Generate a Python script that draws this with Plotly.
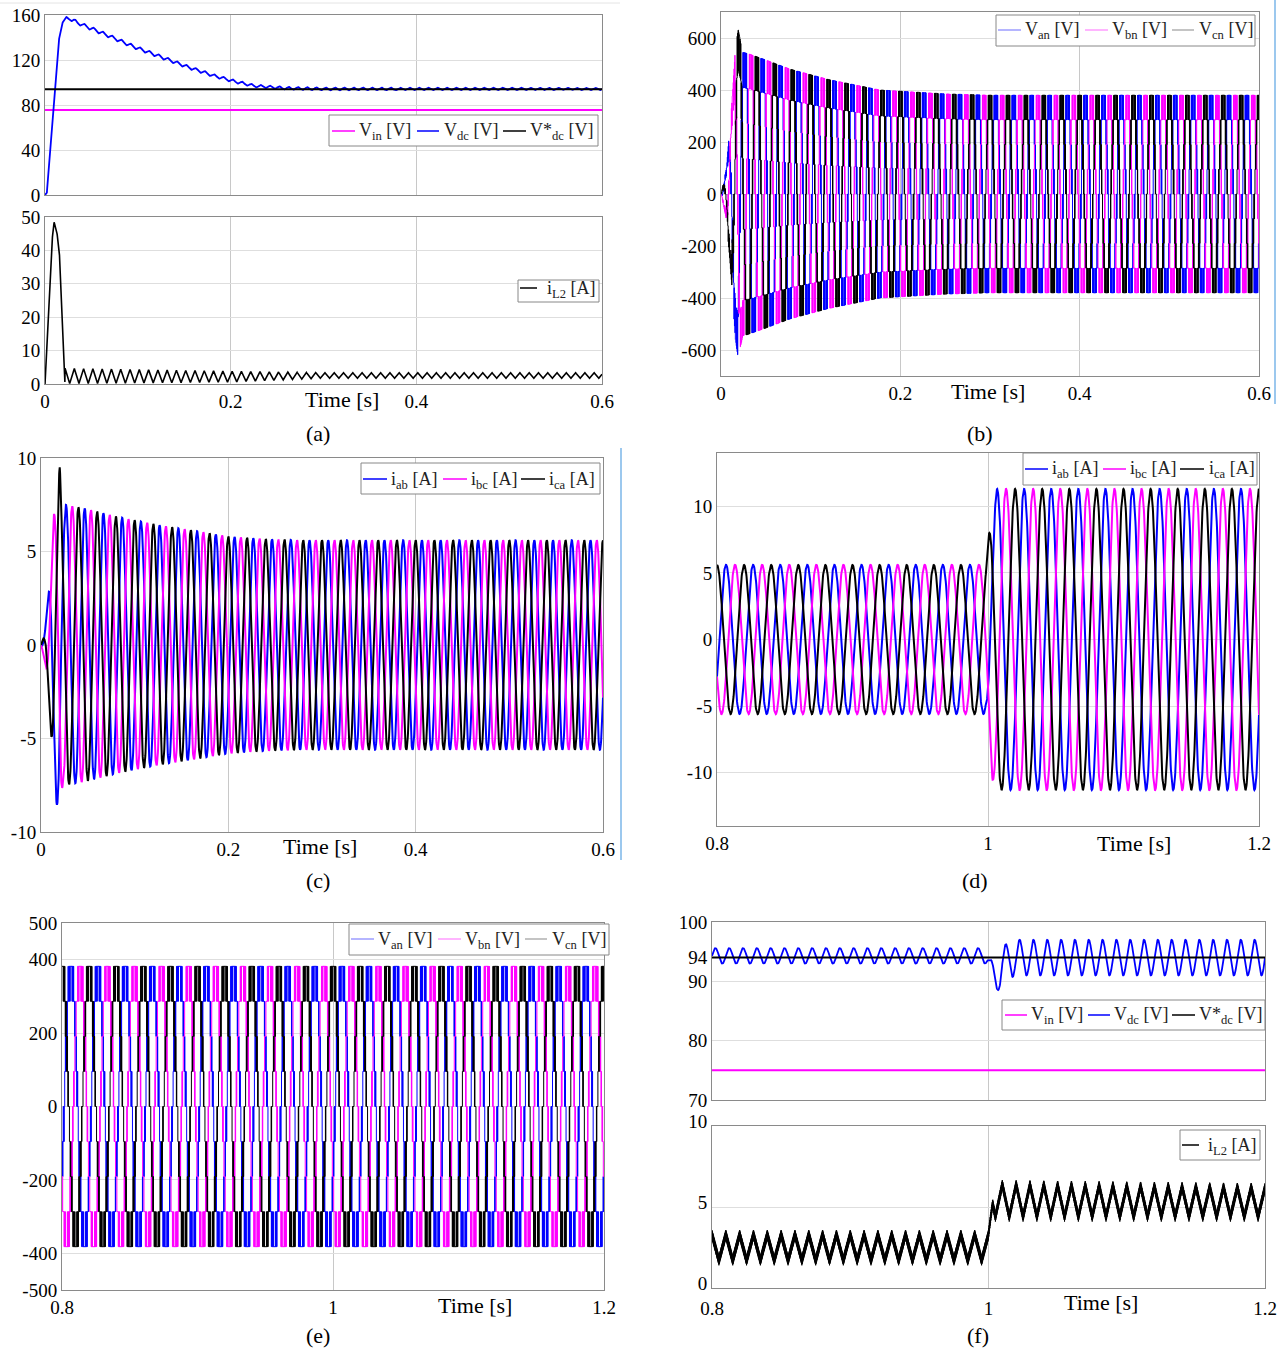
import numpy as np
import plotly.graph_objects as go

W, H = 1286, 1352
FONT = "Liberation Serif"
BLUE, MAG, BLK = "#0000FF", "#FF00FF", "#000000"

# ------------------------------------------------------------------
# Values
# ------------------------------------------------------------------
f_grid = 50.0      # AC fundamental [Hz]
f_ripple = 100.0   # DC-side ripple [Hz]
f_carrier = 2000.0 # switching of the multilevel phase voltages [Hz]
n_levels = 4       # voltage steps per half wave (0, 94, 188, 282, 376 V)

# phase shift of each phase [deg] (i_ca / V_cn peaks at t = 0, 0.02, ...)
phase_ab, phase_bc, phase_ca = -120.0, -240.0, 0.0

# (a) upper panel: DC voltages
a_vin = 75.5
a_vdc_ref = 94.0
a_vdc_t = [0, 0.002, 0.0054, 0.009, 0.011, 0.0144, 0.018, 0.0224, 0.041, 0.070,
           0.095, 0.124, 0.153, 0.182, 0.204, 0.225, 0.258, 0.30, 0.60]
a_vdc_mean = [0, 2, 40, 75, 93, 135, 152, 158, 151, 141,
              132, 123, 114, 106, 101, 97, 95, 94.3, 94.3]
a_vdc_rip_t = [0.0, 0.02, 0.03, 0.25, 0.60]
a_vdc_rip = [0.0, 0.0, 1.6, 1.2, 1.0]

# (a) lower panel: inductor current i_L2
a_il_pulse_t = [0, 0.003, 0.0065, 0.0097, 0.0125, 0.0154, 0.019, 0.0215]
a_il_pulse = [0, 17, 40, 48.5, 46, 40, 15, 0]
a_il_rip_t = [0.0215, 0.10, 0.20, 0.30, 0.60]
a_il_lo = [0.0, 0.2, 0.5, 1.7, 1.7]
a_il_hi = [4.8, 4.4, 3.9, 3.4, 3.4]

# (b) phase voltages, peak envelope [V]
b_env_t = [0, 0.006, 0.012, 0.016, 0.019, 0.024, 0.03, 0.05, 0.077, 0.12, 0.177, 0.25, 0.30, 0.60]
b_env = [0, 100, 350, 560, 630, 545, 540, 515, 480, 440, 400, 385, 380, 380]

# (c) line currents, peak envelope [A]
c_env_t = [0, 0.004, 0.0067, 0.01, 0.0133, 0.0167, 0.02, 0.0233, 0.0267, 0.03,
           0.047, 0.081, 0.127, 0.17, 0.20, 0.24, 0.28, 0.60]
c_env = [0, 0.8, 2.2, 4.4, 6.8, 8.5, 9.5, 7.4, 7.5, 7.45,
         7.3, 6.86, 6.4, 6.06, 5.8, 5.66, 5.6, 5.6]

# (d) line currents around the load step [A]
d_env_t = [0.8, 0.9985, 1.0, 1.0033, 1.0067, 1.2]
d_env = [5.6, 5.6, 7.5, 10.5, 11.3, 11.3]

# (e) phase voltages around the load step [V]
e_env_t = [0.8, 1.2]
e_env = [382, 382]

# (f) upper: DC voltages around the load step
f_vin = 75.0
f_vdc_ref = 94.0
f_vdc_t = [0.8, 0.999, 1.002, 1.005, 1.01, 1.02, 1.2]
f_vdc_mean = [94.3, 94.3, 92.0, 89.5, 93.0, 94.0, 94.0]
f_vdc_rip_t = [0.8, 1.0, 1.01, 1.2]
f_vdc_rip = [1.3, 1.3, 3.0, 3.0]

# (f) lower: inductor current around the load step
f_il_t = [0.8, 1.0, 1.003, 1.2]
f_il_lo = [1.7, 1.7, 4.4, 4.4]
f_il_hi = [3.3, 3.3, 6.4, 6.2]
f_il_hf = 0.6
f_hf = 4000.0

# axis tick values
a_top_ticks = [0, 40, 80, 120, 160]
a_bot_ticks = [0, 10, 20, 30, 40, 50]
b_ticks = [-600, -400, -200, 0, 200, 400, 600]
c_ticks = [-10, -5, 0, 5, 10]
d_ticks = [-10, -5, 0, 5, 10]
e_ticks = [-500, -400, -200, 0, 200, 400, 500]
f_top_ticks = [70, 80, 90, 94, 100]
f_bot_ticks = [0, 5, 10]
x_ticks_06 = [0, 0.2, 0.4, 0.6]
x_ticks_12 = [0.8, 1.0, 1.2]
x_ticktext_12 = ["0.8", "1", "1.2"]

# legend texts
leg_vdc = ["V<sub>in</sub> [V]", "V<sub>dc</sub> [V]", "V*<sub>dc</sub> [V]"]
leg_il = ["i<sub>L2</sub> [A]"]
leg_v = ["V<sub>an</sub> [V]", "V<sub>bn</sub> [V]", "V<sub>cn</sub> [V]"]
leg_i = ["i<sub>ab</sub> [A]", "i<sub>bc</sub> [A]", "i<sub>ca</sub> [A]"]


# ------------------------------------------------------------------
# waveform builders (use the envelopes above)
# ------------------------------------------------------------------
def tri(t, f, ph=0.0):
    return 1.0 - 2.0 * np.abs(((t * f + ph) % 1.0) - 0.5)


def sine_phase(t, env_t, env, ph_deg):
    a = np.interp(t, env_t, env)
    return a * np.cos(2 * np.pi * f_grid * t + np.deg2rad(ph_deg))


def multilevel(t0, t1, env_t, env, ph_deg):
    dt = 1.0 / (f_carrier * 20)
    t = np.arange(t0, t1 + dt / 2, dt)
    tk = np.floor(t * f_carrier) / f_carrier
    e_hold = np.interp(tk, env_t, env)
    ref = e_hold * np.cos(2 * np.pi * f_grid * t + np.deg2rad(ph_deg))
    step = np.maximum(e_hold / n_levels, 1e-9)
    x = np.abs(ref) / step
    k = np.floor(x)
    car = (t * f_carrier) % 1.0
    lvl = np.minimum(k + ((x - k) > car), n_levels)
    y = np.sign(ref) * lvl * step
    idx = np.concatenate(([0], np.nonzero(np.diff(y))[0] + 1, [len(y) - 1]))
    return t[idx], y[idx]


def px(x):
    return x / W


def py(y):
    return 1 - y / H


fig = go.Figure()

# ---------------- (a) upper
ta = np.arange(0, 0.6 + 1e-9, 0.0002)
vdc_a = np.interp(ta, a_vdc_t, a_vdc_mean) + np.interp(ta, a_vdc_rip_t, a_vdc_rip) * np.sin(2 * np.pi * f_ripple * ta)
fig.add_trace(go.Scatter(x=[0, 0.6], y=[a_vin, a_vin], mode="lines", line=dict(color=MAG, width=2),
                         name=leg_vdc[0], xaxis="x", yaxis="y"))
fig.add_trace(go.Scatter(x=ta, y=vdc_a, mode="lines", line=dict(color=BLUE, width=1.8),
                         name=leg_vdc[1], xaxis="x", yaxis="y"))
fig.add_trace(go.Scatter(x=[0, 0.6], y=[a_vdc_ref, a_vdc_ref], mode="lines", line=dict(color=BLK, width=2),
                         name=leg_vdc[2], xaxis="x", yaxis="y"))

# ---------------- (a) lower
il_a = np.where(ta < a_il_pulse_t[-1], np.interp(ta, a_il_pulse_t, a_il_pulse), 0.0)
lo = np.interp(ta, a_il_rip_t, a_il_lo)
hi = np.interp(ta, a_il_rip_t, a_il_hi)
rip = lo + (hi - lo) * tri(ta - a_il_pulse_t[-1], f_ripple, 0.5)
il_a = np.where(ta >= a_il_pulse_t[-1], rip, il_a)
fig.add_trace(go.Scatter(x=ta, y=il_a, mode="lines", line=dict(color=BLK, width=1.6),
                         name=leg_il[0], xaxis="x2", yaxis="y2"))

# ---------------- (b)
for nm, col, ph in zip(leg_v, [BLUE, MAG, BLK], [phase_ab, phase_bc, phase_ca]):
    tt, yy = multilevel(0, 0.6, b_env_t, b_env, ph)
    fig.add_trace(go.Scatter(x=tt, y=yy, mode="lines", line=dict(color=col, width=1, shape="hv", simplify=False),
                             name=nm, xaxis="x3", yaxis="y3"))

# ---------------- (c)
tc = np.arange(0, 0.6 + 1e-9, 0.0002)
for nm, col, ph in zip(leg_i, [BLUE, MAG, BLK], [phase_ab, phase_bc, phase_ca]):
    fig.add_trace(go.Scatter(x=tc, y=sine_phase(tc, c_env_t, c_env, ph), mode="lines",
                             line=dict(color=col, width=2), name=nm, xaxis="x4", yaxis="y4"))

# ---------------- (d)
td = np.arange(0.8, 1.2 + 1e-9, 0.0002)
for nm, col, ph in zip(leg_i, [BLUE, MAG, BLK], [phase_ab, phase_bc, phase_ca]):
    fig.add_trace(go.Scatter(x=td, y=sine_phase(td, d_env_t, d_env, ph), mode="lines",
                             line=dict(color=col, width=2), name=nm, xaxis="x5", yaxis="y5"))

# ---------------- (e)
for nm, col, ph in zip(leg_v, [BLUE, MAG, BLK], [phase_ab, phase_bc, phase_ca]):
    tt, yy = multilevel(0.8, 1.2, e_env_t, e_env, ph)
    fig.add_trace(go.Scatter(x=tt, y=yy, mode="lines", line=dict(color=col, width=1, shape="hv", simplify=False),
                             name=nm, xaxis="x6", yaxis="y6"))

# ---------------- (f) upper
tf = np.arange(0.8, 1.2 + 1e-9, 0.0002)
vdc_f = np.interp(tf, f_vdc_t, f_vdc_mean) + np.interp(tf, f_vdc_rip_t, f_vdc_rip) * np.sin(2 * np.pi * f_ripple * tf)
fig.add_trace(go.Scatter(x=[0.8, 1.2], y=[f_vin, f_vin], mode="lines", line=dict(color=MAG, width=2),
                         name=leg_vdc[0], xaxis="x7", yaxis="y7"))
fig.add_trace(go.Scatter(x=tf, y=vdc_f, mode="lines", line=dict(color=BLUE, width=1.8),
                         name=leg_vdc[1], xaxis="x7", yaxis="y7"))
fig.add_trace(go.Scatter(x=[0.8, 1.2], y=[f_vdc_ref, f_vdc_ref], mode="lines", line=dict(color=BLK, width=2),
                         name=leg_vdc[2], xaxis="x7", yaxis="y7"))

# ---------------- (f) lower
tg = np.arange(0.8, 1.2 + 1e-9, 1.0 / (f_hf * 8))
lo = np.interp(tg, f_il_t, f_il_lo)
hi = np.interp(tg, f_il_t, f_il_hi)
il_f = lo + (hi - lo) * tri(tg, f_ripple, 0.5) + f_il_hf * (tri(tg, f_hf) - 0.5)
fig.add_trace(go.Scatter(x=tg, y=il_f, mode="lines", line=dict(color=BLK, width=1, simplify=False),
                         name=leg_il[0], xaxis="x8", yaxis="y8"))

# ------------------------------------------------------------------
# layout
# ------------------------------------------------------------------
tickfont = dict(family=FONT, size=19, color="black")
GRID = "#dedede"
BOX = "#8a8a8a"


def xax(x0, x1, anchor, rng, tv, tt=None, labels=True, standoff=None):
    d = dict(domain=[px(x0), px(x1)], anchor=anchor, range=rng, tickvals=tv, showgrid=True,
             gridcolor="#c8c8c8", gridwidth=1, zeroline=False, showline=True, mirror=True,
             linecolor=BOX, linewidth=1, ticks="", tickfont=tickfont, showticklabels=labels,
             automargin=False)
    if tt is not None:
        d["ticktext"] = tt
    if standoff is not None:
        d["ticklabelstandoff"] = standoff
    return d


def yax(y0, y1, anchor, rng, tv, shift=None):
    d = dict(domain=[py(y1), py(y0)], anchor=anchor, range=rng, tickvals=tv,
             ticktext=[str(v) for v in tv], showgrid=True,
             gridcolor=GRID, gridwidth=1, zeroline=False, showline=True, mirror=True,
             linecolor=BOX, linewidth=1, ticks="", tickfont=tickfont, automargin=False)
    if shift is not None:
        d["ticklabelshift"] = shift
    return d


annotations = []
shapes = []

# hand-placed legend boxes (box, line y, [(line x0, line x1, text x, colour, text)])
legend_specs = [
    ((329, 115, 598, 146), 131, [(332, 355, 357, MAG, leg_vdc[0]), (417, 439, 442, BLUE, leg_vdc[1]),
                                  (503, 526, 528, BLK, leg_vdc[2])]),
    ((518, 280, 599, 302), 288, [(520, 537, 545, BLK, leg_il[0])]),
    ((996, 15, 1255, 46), 30, [(998, 1021, 1023, "#9c9cff", leg_v[0]), (1085, 1108, 1110, "#ff9cff", leg_v[1]),
                                (1172, 1194, 1197, "#b0b0b0", leg_v[2])]),
    ((361, 463, 600, 494), 479, [(363, 387, 389, BLUE, leg_i[0]), (443, 467, 469, MAG, leg_i[1]),
                                  (521, 545, 547, BLK, leg_i[2])]),
    ((1023, 453, 1257, 485), 469, [(1025, 1048, 1050, BLUE, leg_i[0]), (1103, 1126, 1128, MAG, leg_i[1]),
                                    (1180, 1204, 1207, BLK, leg_i[2])]),
    ((349, 924, 609, 955), 939, [(351, 374, 376, "#9c9cff", leg_v[0]), (438, 461, 463, "#ff9cff", leg_v[1]),
                                  (525, 547, 550, "#b0b0b0", leg_v[2])]),
    ((1002, 1000, 1265, 1030), 1015, [(1005, 1027, 1029, MAG, leg_vdc[0]), (1088, 1110, 1112, BLUE, leg_vdc[1]),
                                       (1172, 1195, 1197, BLK, leg_vdc[2])]),
    ((1180, 1130, 1260, 1160), 1145, [(1182, 1199, 1206, BLK, leg_il[0])]),
]
for (bx0, by0, bx1, by1), ly, entries in legend_specs:
    shapes.append(dict(type="rect", xref="paper", yref="paper", x0=px(bx0), x1=px(bx1), y0=py(by1), y1=py(by0),
                       line=dict(color="#888888", width=1), fillcolor="white", layer="above"))
    for lx0, lx1, tx, col, txt in entries:
        shapes.append(dict(type="line", xref="paper", yref="paper", x0=px(lx0), x1=px(lx1), y0=py(ly), y1=py(ly),
                           line=dict(color=col, width=1.5), layer="above"))
        annotations.append(dict(x=px(tx), y=py(ly + 1), xref="paper", yref="paper", text=txt, showarrow=False,
                                xanchor="left", yanchor="middle",
                                font=dict(family=FONT, size=18, color="#222222")))

for (xc, yc, txt) in [(342, 400, "Time [s]"), (988, 392, "Time [s]"), (320, 846, "Time [s]"),
                      (1134, 843, "Time [s]"), (475, 1305, "Time [s]"), (1101, 1302, "Time [s]")]:
    annotations.append(dict(x=px(xc), y=py(yc), xref="paper", yref="paper", text=txt, showarrow=False,
                            xanchor="center", yanchor="middle", font=dict(family=FONT, size=22, color="black")))
for (xc, yc, txt) in [(318, 433, "(a)"), (980, 433, "(b)"), (318, 880, "(c)"),
                      (975, 880, "(d)"), (318, 1335, "(e)"), (978, 1335, "(f)")]:
    annotations.append(dict(x=px(xc), y=py(yc), xref="paper", yref="paper", text=txt, showarrow=False,
                            xanchor="center", yanchor="middle", font=dict(family=FONT, size=22, color="black")))

shapes += [
    dict(type="line", xref="paper", yref="paper", x0=px(1275), x1=px(1275), y0=py(0), y1=py(404),
         line=dict(color="#9cc8ee", width=2)),
    dict(type="line", xref="paper", yref="paper", x0=px(621), x1=px(621), y0=py(448), y1=py(860),
         line=dict(color="#9cc8ee", width=2)),
    dict(type="line", xref="paper", yref="paper", x0=px(0), x1=px(620), y0=py(3), y1=py(3),
         line=dict(color="#e4e4e4", width=1)),
]

fig.update_layout(
    width=W, height=H, margin=dict(l=0, r=0, t=0, b=0, pad=0, autoexpand=False),
    paper_bgcolor="white", plot_bgcolor="white",
    font=dict(family=FONT, size=19, color="black"),
    showlegend=False,
    xaxis=xax(45, 602, "y", [0, 0.6], x_ticks_06, labels=False),
    yaxis=yax(15, 195, "x", [0, 160], a_top_ticks),
    xaxis2=xax(45, 602, "y2", [0, 0.6], x_ticks_06),
    yaxis2=yax(217, 384, "x2", [0, 50], a_bot_ticks),
    xaxis3=xax(721, 1259, "y3", [0, 0.6], x_ticks_06),
    yaxis3=yax(12, 376, "x3", [-700, 700], b_ticks),
    xaxis4=xax(41, 603, "y4", [0, 0.6], x_ticks_06),
    yaxis4=yax(458, 832, "x4", [-10, 10], c_ticks),
    xaxis5=xax(717, 1259, "y5", [0.8, 1.2], x_ticks_12, x_ticktext_12),
    yaxis5=yax(453, 826, "x5", [-14, 14], d_ticks),
    xaxis6=xax(62, 604, "y6", [0.8, 1.2], x_ticks_12, x_ticktext_12),
    yaxis6=yax(923, 1290, "x6", [-500, 500], e_ticks),
    xaxis7=xax(712, 1265, "y7", [0.8, 1.2], x_ticks_12, x_ticktext_12, labels=False),
    yaxis7=yax(922, 1100, "x7", [70, 100], f_top_ticks),
    xaxis8=xax(712, 1265, "y8", [0.8, 1.2], x_ticks_12, x_ticktext_12, standoff=3),
    yaxis8=yax(1126, 1288, "x8", [0, 10], f_bot_ticks, shift=-5),
    annotations=annotations,
    shapes=shapes,
)

fig.write_html("out.html")
